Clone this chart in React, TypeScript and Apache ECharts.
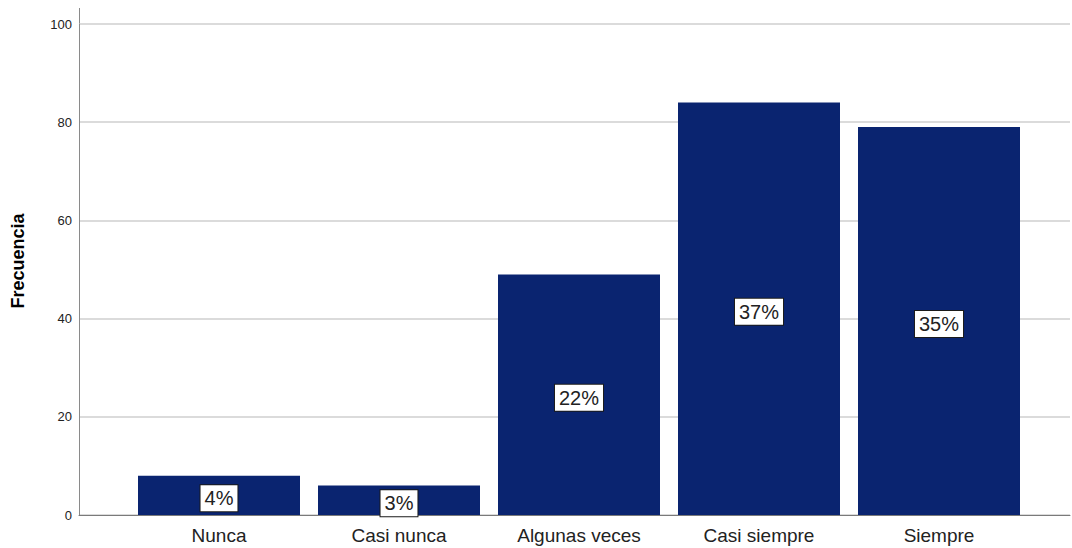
import React, { useEffect, useRef } from "react";
import * as echarts from "echarts";

const categories = ["Nunca", "Casi nunca", "Algunas veces", "Casi siempre", "Siempre"];
const frequencies = [8, 6, 49, 84, 79];
const percentLabels = ["4%", "3%", "22%", "37%", "35%"];
const yTicks = [0, 20, 40, 60, 80, 100];

const FONT = "'Liberation Sans', Arial, sans-serif";

export default function App() {
  const ref = useRef<HTMLDivElement>(null);

  useEffect(() => {
    if (!ref.current) return;
    const chart = echarts.init(ref.current, null, { renderer: "svg" });
    const yMin = yTicks[0];
    const yMax = yTicks[yTicks.length - 1];
    const yInterval = yTicks[1] - yTicks[0];

    chart.setOption({
      animation: false,
      backgroundColor: "#ffffff",
      textStyle: { fontFamily: FONT },
      grid: [
        { left: 79, right: 2, top: 24, bottom: 33, containLabel: false },
        { left: 129, width: 900, top: 24, bottom: 33, containLabel: false },
      ],
      xAxis: [
        {
          gridIndex: 0,
          type: "value",
          min: 0,
          max: 1,
          axisLine: { show: true, onZero: false, lineStyle: { color: "#7a7a7a", width: 1 } },
          axisTick: { show: false },
          axisLabel: { show: false },
          splitLine: { show: false },
        },
        {
          gridIndex: 1,
          type: "category",
          data: categories,
          axisLine: { show: false },
          axisTick: { show: false },
          axisLabel: {
            color: "#222",
            fontSize: 19,
            fontFamily: FONT,
            margin: 11,
          },
          splitLine: { show: false },
        },
      ],
      yAxis: [
        {
          gridIndex: 0,
          type: "value",
          min: yMin,
          max: yMax,
          interval: yInterval,
          axisLine: { show: true, lineStyle: { color: "#8a8a8a", width: 1 } },
          axisTick: { show: false },
          axisLabel: { color: "#222", fontSize: 13, fontFamily: FONT, margin: 7 },
          splitLine: { show: true, lineStyle: { color: "#cfcfcf", width: 1.5 } },
        },
        {
          gridIndex: 1,
          type: "value",
          min: yMin,
          max: yMax,
          interval: yInterval,
          show: false,
          splitLine: { show: false },
        },
      ],
      series: [
        {
          type: "bar",
          xAxisIndex: 1,
          yAxisIndex: 1,
          data: frequencies,
          barWidth: 162,
          itemStyle: { color: "#0a2470" },
          label: {
            show: true,
            position: "inside",
            offset: [0, 3],
            formatter: (p: any) => percentLabels[p.dataIndex],
            color: "#222",
            fontSize: 20,
            fontFamily: FONT,
            backgroundColor: "#ffffff",
            borderColor: "#1a1a1a",
            borderWidth: 1,
            padding: [4, 4, 2, 4],
          },
        },
      ],
      graphic: [
        {
          type: "line",
          shape: { x1: 79.5, y1: 8, x2: 79.5, y2: 24 },
          style: { stroke: "#8a8a8a", lineWidth: 1 },
          silent: true,
        },
        {
          type: "text",
          x: 18,
          y: 261,
          rotation: Math.PI / 2,
          style: {
            text: "Frecuencia",
            fill: "#000",
            font: `bold 18px ${FONT}`,
            align: "center",
            verticalAlign: "middle",
          },
          silent: true,
        },
      ],
    });

    return () => chart.dispose();
  }, []);

  return (
    <div
      ref={ref}
      style={{ position: "absolute", left: 0, top: 0, width: 1072, height: 548 }}
    />
  );
}
